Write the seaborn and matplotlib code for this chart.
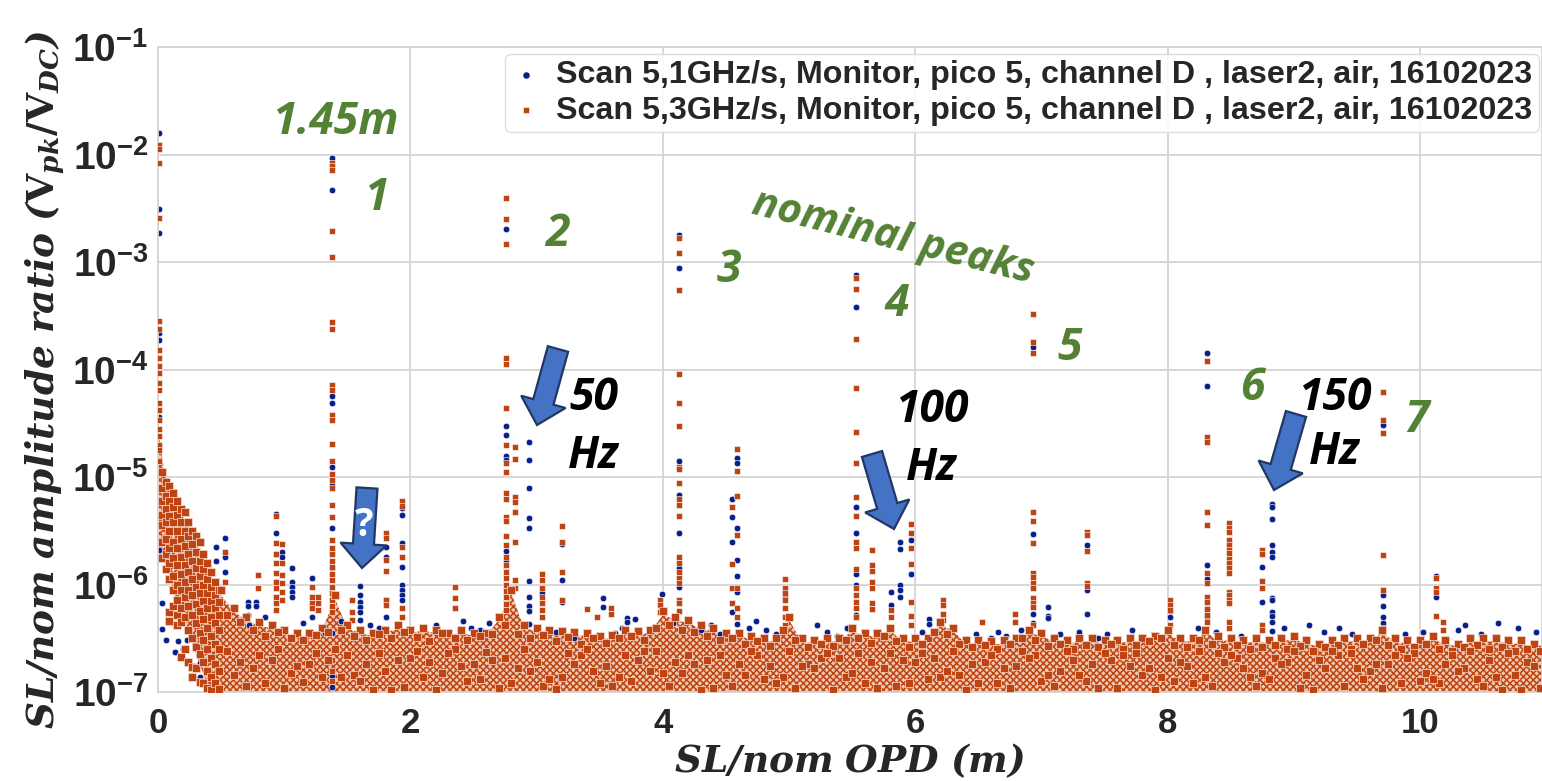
import numpy as np
import pandas as pd
import seaborn as sns
import matplotlib.pyplot as plt
import matplotlib.patches as mpatches
from matplotlib.transforms import Affine2D

# all amplitudes as log10(ratio)
blue_columns = [
    (0.01, [-1.80, -2.51, -2.73, -3.66, -3.73, -4.44, -4.70, -5.68]),
    (0.03, [-6.17, -6.41]), (0.06, [-6.52]), (0.135, [-6.63]), (0.16, [-6.53]), (0.20, [-6.6]),
    (0.23, [-6.52]), (0.29, [-6.56]), (0.28, [-6.86]), (0.33, [-6.73, -6.86]), (0.41, [-6.87]),
    (0.53, [-5.57, -5.74, -5.88]), (0.46, [-5.65, -5.78]),
    (0.71, [-6.16, -6.20, -6.28]), (0.78, [-6.16, -6.20]),
    (0.935, [-5.34, -5.52, -5.72, -5.98]), (0.985, [-5.70, -5.74]),
    (1.06, [-5.85, -5.98, -6.02, -6.07, -6.12]), (1.22, [-5.94, -6.3]),
    (1.375, [-2.03, -2.33, -4.25, -4.31, -4.91, -5.07, -5.47, -5.7, -5.85, -6.45, -6.85, -6.95]),
    (1.60, [-6.01, -6.10, -6.16, -6.21, -6.26, -6.33]),
    (1.81, [-5.65, -5.74, -6.14, -6.3]),
    (1.93, [-5.29, -5.35, -5.61, -5.84, -6.00, -6.05, -6.10, -6.14]),
    (2.76, [-2.69, -4.53, -4.61, -4.80, -4.84, -5.69, -5.77]),
    (2.94, [-4.67, -4.84, -5.10, -5.38, -5.47, -5.97, -6.12, -6.20, -6.25, -6.37]),
    (3.04, [-6.08]), (3.2, [-5.62, -5.96, -6.16]), (3.53, [-6.13, -6.21]),
    (3.72, [-6.31, -6.35]), (3.99, [-6.09]),
    (4.13, [-2.75, -3.06, -4.85, -5.17, -5.52, -5.85, -6.02]),
    (4.55, [-5.20, -5.37, -5.60, -6.26]), (4.59, [-4.82, -4.87, -5.47, -5.77, -5.92, -6.07, -6.37]),
    (4.97, [-6.12]),
    (5.53, [-3.12, -3.42, -5.28, -5.52, -5.90, -6.00, -6.28]),
    (5.81, [-6.07, -6.19]), (5.88, [-5.60, -5.67, -6.00, -6.05, -6.12]),
    (5.97, [-5.59, -5.90]), (6.11, [-6.32, -6.37]),
    (6.93, [-3.79, -5.53, -6.02, -6.27, -6.36]), (7.05, [-6.21, -6.29, -6.31]),
    (7.36, [-5.63, -6.05, -6.27]), (8.02, [-6.25, -6.30]),
    (8.31, [-3.85, -4.15, -5.82, -5.95, -6.16, -6.23, -6.30]),
    (8.75, [-5.84, -6.16]),
    (8.83, [-5.25, -5.28, -5.39, -5.63, -5.70, -5.74, -6.13, -6.14, -6.26, -6.29, -6.35, -6.43]),
    (9.71, [-4.52, -6.10, -6.20, -6.30, -6.36]),
    (10.13, [-5.92, -6.12]), (10.3, [-6.42]),
]
rust_columns = [
    (0.01, [-1.91, -1.95, -2.08, -2.59, -3.55, -3.62, -3.82, -3.89, -3.97, -4.03, -4.13, -4.19,
            -4.31, -4.38, -4.47, -4.55, -4.62, -4.70, -4.75, -4.85]),
    (1.375, [-2.08, -2.11, -2.14, -2.71, -2.95, -3.56, -3.62, -4.14, -4.19, -4.42, -4.47, -4.69,
             -4.85, -4.97, -5.03, -5.10, -5.26, -5.37, -5.59, -5.66, -5.72, -5.78, -5.84, -5.90,
             -5.96, -6.02, -6.08, -6.14, -6.20, -6.26, -6.7, -6.8, -6.9]),
    (2.76, [-2.40, -2.60, -2.83, -3.89, -3.95, -4.36, -4.70, -4.87, -4.95, -5.15, -5.20, -5.37,
            -5.41, -5.55, -5.63, -5.74, -5.82, -5.88, -5.94, -6.00, -6.06, -6.12, -6.18, -6.24]),
    (2.83, [-4.72, -4.83, -5.19, -5.23, -5.33, -5.60, -5.96, -6.03]),
    (3.04, [-5.90, -5.96, -6.03, -6.12, -6.17, -6.24, -6.30]),
    (3.2, [-5.46, -5.60, -5.88, -6.14]),
    (3.40, [-6.23]), (3.48, [-6.30]), (3.59, [-6.22, -6.27]), (3.98, [-6.14, -6.19, -6.26]),
    (4.13, [-2.78, -2.92, -3.26, -4.04, -4.31, -4.53, -4.91, -4.93, -5.06, -5.20, -5.26, -5.36,
            -5.74, -5.80, -5.88, -5.94, -5.99, -6.14, -6.17, -6.25]),
    (4.55, [-5.28, -5.81, -6.03, -6.17]),
    (4.59, [-4.74, -4.94, -5.18, -5.54, -6.03, -6.22, -6.30]),
    (4.97, [-5.95, -6.03, -6.08, -6.14, -6.22, -6.30, -6.38]),
    (5.53, [-3.15, -3.25, -3.72, -4.17, -4.58, -4.87, -5.19, -5.36, -5.60, -5.66, -5.86, -6.03,
            -6.10, -6.16, -6.22, -6.30]),
    (5.66, [-5.68, -5.82, -5.87, -5.98, -6.03, -6.17, -6.23]),
    (5.81, [-6.24, -6.30]),
    (5.97, [-5.44, -5.52, -5.66, -5.81, -6.16, -6.29, -6.38]),
    (6.22, [-6.14, -6.19, -6.27, -6.33]), (6.53, [-6.35]), (6.79, [-6.27, -6.35]),
    (6.93, [-3.48, -3.74, -3.85, -5.33, -5.41, -5.61, -5.89, -5.93, -5.99, -6.03, -6.13, -6.17,
            -6.21, -6.38]),
    (7.36, [-5.51, -5.54, -5.69, -5.99, -6.01]),
    (8.02, [-6.14, -6.19, -6.24, -6.38]),
    (8.31, [-3.92, -4.63, -4.67, -5.33, -5.45, -5.89, -5.99, -6.12, -6.16, -6.23, -6.28, -6.35]),
    (8.49, [-5.43, -5.47, -5.51, -5.59, -5.63, -5.68, -5.71, -5.76, -5.80, -5.85, -5.89, -6.07,
            -6.10, -6.14, -6.17, -6.35, -6.40]),
    (8.75, [-5.68, -5.72, -5.97, -6.03, -6.38, -6.42]),
    (9.71, [-4.21, -4.47, -4.59, -5.73, -6.05, -6.40, -6.44]),
    (10.13, [-5.94, -6.03, -6.07, -6.29]), (10.18, [-6.35, -6.42]),
    (0.53, [-5.70, -5.98]), (0.79, [-5.91, -6.03]),
    (0.935, [-5.36, -5.61, -5.72, -5.80, -5.89, -5.98, -6.03, -6.12, -6.17, -6.24]),
    (0.985, [-5.62, -5.80, -5.91, -5.99, -6.07, -6.14]),
    (1.22, [-6.02, -6.12, -6.17, -6.22]), (1.27, [-6.12, -6.17, -6.24]),
    (1.54, [-6.14, -6.26, -6.33]),
    (1.81, [-5.52, -5.57, -5.77, -5.87, -6.14, -6.19]),
    (1.93, [-5.22, -5.27, -5.65, -5.74, -6.22, -6.30]),
    (2.35, [-6.02, -6.13, -6.22]),
]
# lobe next to zero OPD, drawn with the floor
lobe_columns = [
    (0.03, [-4.95, -5.10, -5.22, -5.35, -5.45, -5.60, -5.75]),
    (0.06, [-5.05, -5.18, -5.30, -5.42, -5.58, -5.72, -5.86]),
    (0.09, [-5.08, -5.22, -5.36, -5.50, -5.66, -5.80, -5.95, -6.26, -6.34]),
    (0.12, [-5.15, -5.28, -5.42, -5.60, -5.75, -5.92, -6.05, -6.2]),
    (0.15, [-5.22, -5.35, -5.50, -5.66, -5.82, -6.00, -6.14, -6.28, -6.38]),
    (0.18, [-5.30, -5.42, -5.58, -5.74, -5.90, -6.05, -6.22, -6.35, -6.67]),
    (0.21, [-5.33, -5.50, -5.64, -5.82, -5.98, -6.12, -6.30, -6.6]),
    (0.24, [-5.42, -5.55, -5.72, -5.88, -6.05, -6.20, -6.42, -6.72]),
    (0.27, [-5.50, -5.62, -5.78, -5.95, -6.10, -6.28, -6.50, -6.77, -6.86]),
    (0.30, [-5.55, -5.70, -5.85, -6.02, -6.18, -6.36, -6.58, -6.78]),
    (0.33, [-5.60, -5.78, -5.92, -6.08, -6.25, -6.45, -6.65, -6.91]),
    (0.36, [-5.72, -5.86, -6.00, -6.15, -6.32, -6.52, -6.72, -6.92]),
    (0.39, [-5.80, -5.95, -6.08, -6.22, -6.40, -6.60, -6.80, -6.96]),
    (0.42, [-5.88, -6.02, -6.15, -6.30, -6.48, -6.68, -6.86, -6.98]),
    (0.45, [-5.98, -6.10, -6.22, -6.36, -6.55, -6.74, -6.92]),
    (0.48, [-6.05, -6.16, -6.28, -6.42, -6.60, -6.80, -6.97]),
]

# top edge of the noise floor, one reading every 0.1 m from 0.5 m on
floor_top = [-6.05, -6.22, -6.30, -6.35, -6.38, -6.42, -6.45, -6.45, -6.40, -6.10,
             -6.38, -6.42, -6.45, -6.42, -6.38, -6.42, -6.40, -6.42, -6.45, -6.42,
             -6.45, -6.45, -6.30, -6.05, -6.38, -6.40, -6.42, -6.43, -6.44, -6.45,
             -6.48, -6.47, -6.42, -6.43, -6.42, -6.25, -6.30, -6.33, -6.38, -6.40,
             -6.45, -6.45, -6.48, -6.50, -6.50, -6.30, -6.50, -6.52, -6.50, -6.50,
             -6.40, -6.45, -6.45, -6.40, -6.50, -6.50, -6.50, -6.35, -6.40, -6.52,
             -6.52, -6.53, -6.52, -6.50, -6.42, -6.45, -6.50, -6.52, -6.50, -6.50,
             -6.52, -6.52, -6.50, -6.50, -6.48, -6.42, -6.50, -6.50, -6.42, -6.48,
             -6.50, -6.52, -6.50, -6.52, -6.50, -6.48, -6.52, -6.55, -6.52, -6.50,
             -6.50, -6.50, -6.42, -6.50, -6.52, -6.52, -6.48, -6.52, -6.55, -6.50,
             -6.50, -6.50, -6.52, -6.52, -6.55, -6.53]
# a second row of floor readings, 0.05 m further on and a little lower
floor_under = [-6.28, -6.35, -6.42, -6.48, -6.44, -6.50, -6.52, -6.47, -6.44, -6.42,
               -6.48, -6.52, -6.46, -6.50, -6.44, -6.49, -6.53, -6.45, -6.50, -6.52,
               -6.48, -6.46, -6.38, -6.46, -6.50, -6.47, -6.53, -6.49, -6.55, -6.50,
               -6.54, -6.50, -6.48, -6.52, -6.40, -6.38, -6.42, -6.44, -6.48, -6.52,
               -6.50, -6.55, -6.53, -6.57, -6.42, -6.52, -6.58, -6.55, -6.57, -6.52,
               -6.50, -6.54, -6.48, -6.53, -6.58, -6.55, -6.44, -6.46, -6.55, -6.58,
               -6.56, -6.60, -6.55, -6.50, -6.52, -6.57, -6.55, -6.60, -6.56, -6.58,
               -6.55, -6.60, -6.56, -6.53, -6.50, -6.56, -6.58, -6.52, -6.55, -6.58,
               -6.56, -6.60, -6.58, -6.56, -6.60, -6.57, -6.62, -6.58, -6.56, -6.60,
               -6.55, -6.52, -6.56, -6.60, -6.58, -6.55, -6.60, -6.62, -6.58, -6.56,
               -6.60, -6.58, -6.62, -6.60, -6.62, -6.60]
# deeper floor readings, one every 0.2 m, each row starts a bit further along
floor_deep_a = [-6.62, -6.78, -6.60, -6.91, -6.70, -6.84, -6.64, -6.95, -6.72, -6.60, -6.88, -6.68, -6.80,
                -6.97, -6.66, -6.76, -6.90, -6.62, -6.82, -6.70, -6.94, -6.66, -6.86, -6.74, -6.98, -6.64,
                -6.78, -6.92, -6.68, -6.84, -6.72, -6.96, -6.66, -6.80, -6.90, -6.70, -6.64, -6.86, -6.76,
                -6.94, -6.68, -6.82, -6.72, -6.98, -6.66, -6.88, -6.74, -6.64, -6.92, -6.78, -6.70, -6.84, -6.96]
floor_deep_b = [-6.84, -6.66, -6.96, -6.74, -6.60, -6.90, -6.80, -6.68, -6.98, -6.76, -6.63, -6.92, -6.72,
                -6.86, -6.60, -6.94, -6.70, -6.82, -6.66, -6.96, -6.74, -6.88, -6.62, -6.78, -6.68, -6.92,
                -6.64, -6.72, -6.86, -6.98, -6.66, -6.76, -6.90, -6.62, -6.74, -6.96, -6.84, -6.68, -6.92,
                -6.64, -6.78, -6.88, -6.62, -6.70, -6.94, -6.80, -6.66, -6.90, -6.74, -6.62, -6.86, -6.98, -6.72]
floor_deep_c = [-6.72, -6.92, -6.82, -6.64, -6.86, -6.74, -6.98, -6.62, -6.82, -6.90, -6.70, -6.78, -6.94,
                -6.64, -6.80, -6.86, -6.62, -6.94, -6.74, -6.66, -6.84, -6.76, -6.96, -6.68, -6.86, -6.72,
                -6.94, -6.64, -6.80, -6.74, -6.92, -6.62, -6.84, -6.70, -6.96, -6.66, -6.78, -6.90, -6.62,
                -6.72, -6.86, -6.68, -6.96, -6.78, -6.64, -6.74, -6.92, -6.82, -6.66, -6.88, -6.98, -6.72, -6.64]
floor_deep_d = [-6.94, -6.70, -6.76, -6.86, -6.66, -6.98, -6.70, -6.86, -6.64, -6.74, -6.96, -6.60, -6.88,
                -6.74, -6.92, -6.66, -6.80, -6.72, -6.98, -6.84, -6.62, -6.92, -6.76, -6.64, -6.82, -6.96,
                -6.70, -6.88, -6.62, -6.92, -6.78, -6.68, -6.94, -6.84, -6.64, -6.76, -6.98, -6.72, -6.86,
                -6.66, -6.94, -6.74, -6.84, -6.62, -6.78, -6.96, -6.68, -6.88, -6.80, -6.94, -6.64, -6.76, -6.86]
# blue readings poking above the floor
blue_floor_x = [0.72, 0.85, 1.15, 1.32, 1.45, 1.68, 1.75, 2.20, 2.42, 2.48, 2.55, 2.62, 3.15, 3.30,
                3.62, 3.68, 3.78, 4.08, 4.30, 4.38, 4.45, 4.68, 4.74, 4.82, 4.90, 5.22, 5.30, 5.38,
                5.46, 6.05, 6.48, 6.60, 6.66, 6.72, 6.84, 7.15, 7.30, 7.45, 7.52, 7.72, 8.10, 8.24,
                8.38, 8.58, 8.92, 9.12, 9.24, 9.36, 9.46, 9.88, 10.02, 10.36, 10.48, 10.62, 10.78, 10.92]
blue_floor_y = [-6.38, -6.30, -6.36, -6.45, -6.34, -6.38, -6.40, -6.38, -6.34, -6.40, -6.42, -6.36, -6.44, -6.50,
                -6.45, -6.40, -6.32, -6.36, -6.42, -6.38, -6.46, -6.40, -6.34, -6.42, -6.46, -6.38, -6.44, -6.48,
                -6.40, -6.44, -6.46, -6.50, -6.44, -6.48, -6.42, -6.46, -6.44, -6.50, -6.46, -6.42, -6.50, -6.40,
                -6.44, -6.48, -6.40, -6.38, -6.44, -6.40, -6.46, -6.46, -6.44, -6.38, -6.46, -6.36, -6.40, -6.44]
# outline of the solid part of the floor, left lobe first
band_x = [0.005, 0.05, 0.10, 0.15, 0.20, 0.25, 0.30, 0.35, 0.40, 0.45, 0.50]
band_top = [-4.6, -4.95, -5.08, -5.25, -5.38, -5.5, -5.6, -5.75, -5.9, -6.0, -6.1]
band_bottom = [-5.75, -5.7, -5.95, -6.15, -6.3, -6.45, -6.65, -6.8, -6.95, -7.0, -7.0]

xticks = [0, 2, 4, 6, 8, 10]
yticks = [-7, -6, -5, -4, -3, -2, -1]
label_1 = "Scan 5,1GHz/s, Monitor, pico 5, channel D , laser2, air, 16102023"
label_2 = "Scan 5,3GHz/s, Monitor, pico 5, channel D , laser2, air, 16102023"

BLUE = "#08208a"
RUST = "#bf4413"
PEACH = "#f0c9b3"
GREEN = "#548235"

sns.set_theme(style="whitegrid")
plt.rcParams["font.family"] = ["Liberation Sans", "DejaVu Sans"]
plt.rcParams["mathtext.bf"] = "Liberation Sans:bold"
plt.rcParams["hatch.linewidth"] = 1.1


def columns_to_frame(cols):
    xs, ys = [], []
    for x, vals in cols:
        xs += [x] * len(vals)
        ys += [10.0 ** v for v in vals]
    return pd.DataFrame({"opd": xs, "ratio": ys})


floor_x = 0.5 + 0.1 * np.arange(len(floor_top))
deep_x = 0.55 + 0.2 * np.arange(len(floor_deep_a))
frames = [columns_to_frame(lobe_columns),
          pd.DataFrame({"opd": floor_x, "ratio": 10.0 ** np.array(floor_top)}),
          pd.DataFrame({"opd": floor_x + 0.05, "ratio": 10.0 ** np.array(floor_under)})]
for i, row in enumerate([floor_deep_a, floor_deep_b, floor_deep_c, floor_deep_d]):
    frames.append(pd.DataFrame({"opd": deep_x + 0.05 * i, "ratio": 10.0 ** np.array(row)}))
floor_df = pd.concat(frames)
rust_df = columns_to_frame(rust_columns)
blue_df = pd.concat([columns_to_frame(blue_columns),
                     pd.DataFrame({"opd": blue_floor_x, "ratio": 10.0 ** np.array(blue_floor_y)})])

fig = plt.figure(figsize=(15.42, 7.81), dpi=100)
ax = fig.add_axes([158 / 1542, 89 / 781, 1384 / 1542, 645 / 781])
# pixel coordinates of the picture, for the slide annotations on top of the plot
px = Affine2D().scale(1, -1).translate(0, 781)

area_x = np.concatenate([band_x, floor_x[1:]])
area_top = np.concatenate([band_top, np.array(floor_top[1:]) - 0.03])
area_bottom = np.concatenate([band_bottom, -7.0 * np.ones(len(floor_x) - 1)])
ax.fill_between(area_x, 10.0 ** area_bottom, 10.0 ** area_top, facecolor=PEACH,
                edgecolor=RUST, hatch="xxxxx", linewidth=0, zorder=1)

sns.scatterplot(data=blue_df, x="opd", y="ratio", color=BLUE, marker="o", s=22,
                edgecolor="white", linewidth=0.4, label=label_1, ax=ax, zorder=2)
sns.scatterplot(data=rust_df, x="opd", y="ratio", color=RUST, marker="s", s=20,
                edgecolor="white", linewidth=0.4, label=label_2, ax=ax, zorder=3)
sns.scatterplot(data=floor_df, x="opd", y="ratio", color=RUST, marker="s", s=30,
                edgecolor="#f6dccd", linewidth=0.5, ax=ax, zorder=3)

ax.set_yscale("log")
ax.set_xlim(0, 1384 / 126.2)
ax.set_ylim(1e-7, 1e-1)
ax.set_xticks(xticks)
ax.set_xticklabels([str(t) for t in xticks], fontsize=25, fontweight="bold", color="#262626")
ax.set_yticks([10.0 ** t for t in yticks])
ax.set_yticklabels([r"$\mathbf{10^{%d}}$" % t for t in yticks], fontsize=28, color="#262626",
                   math_fontfamily="custom")
ax.minorticks_off()
ax.tick_params(axis="y", length=0, pad=7)
ax.tick_params(axis="x", length=0, pad=11)
ax.grid(True, color="#d4d4d4", linewidth=1.3)
for s in ax.spines.values():
    s.set_color("#d4d4d4")
    s.set_linewidth(1.3)

ax.set_xlabel(r"$\mathbfit{SL/nom\ OPD\ (m)}$", fontsize=27, color="#262626", labelpad=1,
              math_fontfamily="dejavuserif")
ax.set_ylabel(r"$\mathbfit{SL/nom\ amplitude\ ratio\ (}\mathbf{V}_{\mathbfit{pk}}\mathbf{/V}_{\mathbfit{DC}}\mathbfit{)}$",
              fontsize=27, color="#262626", math_fontfamily="dejavuserif")
ax.yaxis.set_label_coords(-0.066, 0.484)

leg = ax.legend(loc="upper right", bbox_to_anchor=(1539 / 1542, 727 / 781),
                bbox_transform=fig.transFigure, borderaxespad=0,
                prop={"weight": "bold", "size": 23.2}, frameon=True, labelspacing=0.17,
                handlelength=0.9, handletextpad=0.5, borderpad=0.2, framealpha=0.85,
                edgecolor="#d9d9d9", markerscale=1.1)
for t in leg.get_texts():
    t.set_color("#262626")

# green notes
note = dict(transform=px, ha="center", va="center", color=GREEN, family="Open Sans",
            fontweight="bold", fontstyle="italic", clip_on=False, zorder=6)
ax.text(335, 122, "1.45m", fontsize=32, **note)
for x, y, s in [(376, 199, "1"), (557, 235, "2"), (729, 271, "3"), (897, 305, "4"),
                (1070, 348, "5"), (1252, 388, "6"), (1417, 421, "7")]:
    ax.text(x, y, s, fontsize=32, **note)
ax.text(893, 238, "nominal peaks", fontsize=30, rotation=-14, rotation_mode="anchor", **note)

# black notes
note_k = dict(note, color="black")
for x, y, s in [(594, 398, "50"), (594, 456, "Hz"), (932, 411, "100"), (932, 468, "Hz"),
                (1335, 398, "150"), (1335, 453, "Hz")]:
    ax.text(x, y, s, fontsize=32, **note_k)

# blue arrows
for x0, y0, x1, y1 in [(367, 488, 362, 568), (558, 349, 537, 425),
                       (872, 454, 894, 529), (1296, 414, 1274, 490)]:
    ax.add_patch(mpatches.FancyArrow(x0, y0, x1 - x0, y1 - y0, width=21, head_width=46,
                                     head_length=24, length_includes_head=True, transform=px,
                                     facecolor="#4472c4", edgecolor="#1f3864", linewidth=1.6,
                                     clip_on=False, zorder=5))
ax.text(364, 525, "?", fontsize=28, **dict(note, color="white", fontstyle="normal"))

fig.savefig("out.png", dpi=100)
